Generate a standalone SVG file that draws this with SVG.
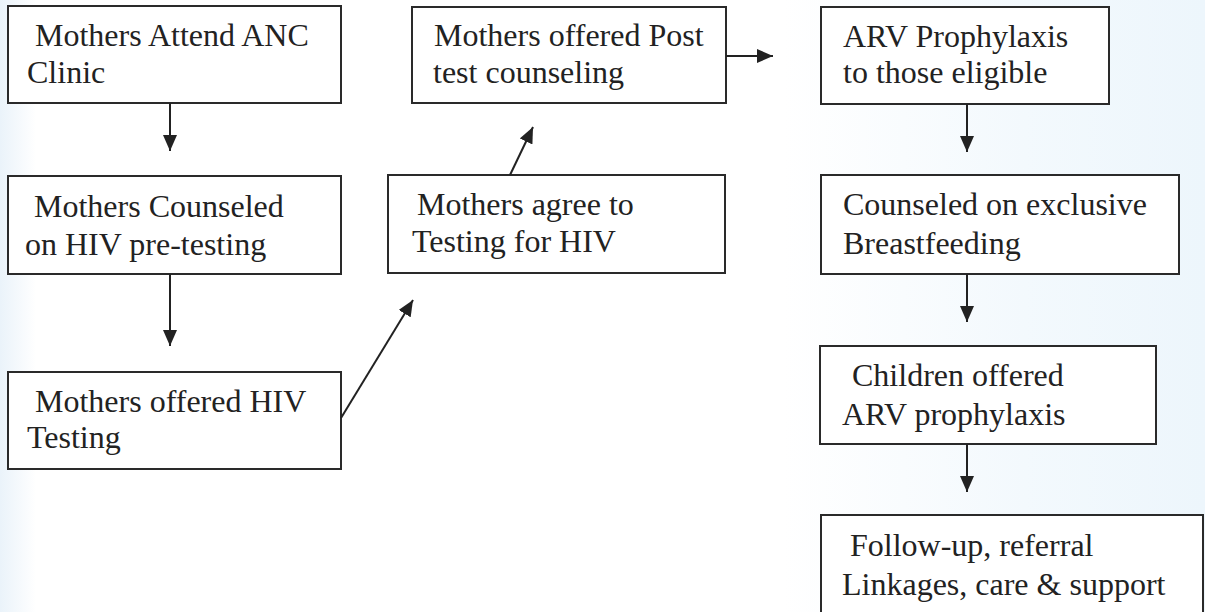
<svg xmlns="http://www.w3.org/2000/svg" width="1205" height="612" viewBox="0 0 1205 612">
  <defs>
    <linearGradient id="bg" x1="0" y1="0" x2="1" y2="0">
      <stop offset="0" stop-color="#eaf3fa"/>
      <stop offset="0.03" stop-color="#ffffff"/>
      <stop offset="0.65" stop-color="#ffffff"/>
      <stop offset="0.85" stop-color="#f3f9fd"/>
      <stop offset="1" stop-color="#edf6fc"/>
    </linearGradient>
    <marker id="ahb" viewBox="0 0 16 14" refX="16" refY="7" markerWidth="16" markerHeight="14" markerUnits="userSpaceOnUse" orient="auto">
      <path d="M0,0 L16,7 L0,14 Z" fill="#222"/>
    </marker>
  </defs>
  <style>
    .box { fill: #ffffff; stroke: #2a2a2a; stroke-width: 2; }
    .t { font-size: 32px; fill: #222; }
    .c { stroke: #222; stroke-width: 2; fill: none; marker-end: url(#ahb); }
  </style>
  <rect x="0" y="0" width="1205" height="612" fill="url(#bg)"/>

  <g font-family="Liberation Serif, Times New Roman, serif">
  <g id="n1">
    <rect class="box" x="8" y="6" width="333" height="97"/>
    <text class="t" x="35" y="46">Mothers Attend ANC</text>
    <text class="t" x="27" y="83">Clinic</text>
  </g>
  <g id="n2">
    <rect class="box" x="8" y="176" width="333" height="98"/>
    <text class="t" x="34" y="217">Mothers Counseled</text>
    <text class="t" x="25" y="255">on HIV pre-testing</text>
  </g>
  <g id="n3">
    <rect class="box" x="8" y="372" width="333" height="97"/>
    <text class="t" x="35" y="412">Mothers offered HIV</text>
    <text class="t" x="27" y="448">Testing</text>
  </g>
  <g id="n4">
    <rect class="box" x="388" y="175" width="337" height="98"/>
    <text class="t" x="417" y="215">Mothers agree to</text>
    <text class="t" x="412" y="252">Testing for HIV</text>
  </g>
  <g id="n5">
    <rect class="box" x="412" y="7" width="314" height="96"/>
    <text class="t" x="434" y="46">Mothers offered Post</text>
    <text class="t" x="433" y="83">test counseling</text>
  </g>
  <g id="n6">
    <rect class="box" x="821" y="7" width="288" height="97"/>
    <text class="t" x="843" y="47">ARV Prophylaxis</text>
    <text class="t" x="843" y="83">to those eligible</text>
  </g>
  <g id="n7">
    <rect class="box" x="821" y="175" width="358" height="99"/>
    <text class="t" x="843" y="215">Counseled on exclusive</text>
    <text class="t" x="843" y="254">Breastfeeding</text>
  </g>
  <g id="n8">
    <rect class="box" x="820" y="346" width="336" height="98"/>
    <text class="t" x="852" y="386">Children offered</text>
    <text class="t" x="842" y="425">ARV prophylaxis</text>
  </g>
  <g id="n9">
    <rect class="box" x="821" y="515" width="382" height="110"/>
    <text class="t" x="850" y="556">Follow-up, referral</text>
    <text class="t" x="842" y="595">Linkages, care &amp; support</text>
  </g>
  </g>

  <g id="connectors">
    <line class="c" x1="170" y1="103" x2="170" y2="151"/>
    <line class="c" x1="170" y1="274" x2="170" y2="346"/>
    <line class="c" x1="341" y1="418" x2="413" y2="300"/>
    <line class="c" x1="510" y1="175" x2="533" y2="127"/>
    <line class="c" x1="726" y1="56" x2="773" y2="56"/>
    <line class="c" x1="967" y1="104" x2="967" y2="152"/>
    <line class="c" x1="967" y1="274" x2="967" y2="322"/>
    <line class="c" x1="967" y1="444" x2="967" y2="492"/>
  </g>
</svg>
